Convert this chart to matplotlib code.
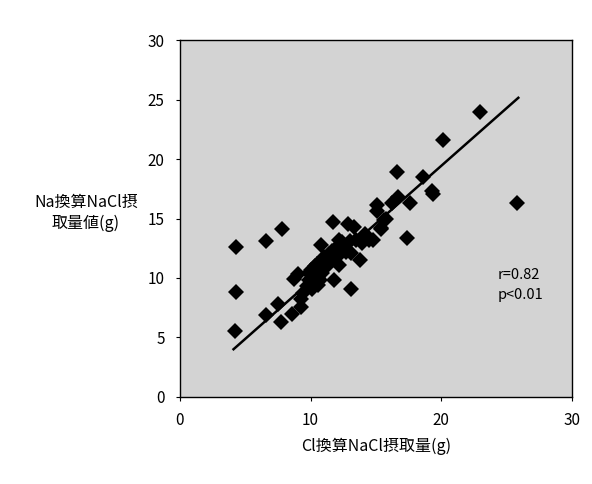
import numpy as np
import matplotlib.pyplot as plt

plt.rcParams['font.family'] = ['Noto Sans CJK JP', 'DejaVu Sans']

# Cl換算 vs Na換算 NaCl摂取量 (g)
cl_nacl = [4.3, 4.3, 4.2, 6.6, 7.8, 6.6, 7.5, 7.7, 8.6, 9.3,
           8.7, 9.0, 9.9, 9.7, 9.4, 9.3, 10.2, 10.6, 10.7, 10.0,
           10.2, 10.5, 11.0, 11.2, 11.5, 11.8, 11.9, 12.2, 11.7, 12.9,
           10.8, 12.2, 13.0, 13.1, 13.8, 13.9, 13.1, 14.8, 14.5, 14.2,
           13.3, 15.4, 15.6, 15.8, 15.1, 15.1, 15.4, 16.2, 16.7, 17.6,
           16.6, 18.6, 19.3, 19.4, 17.4, 20.1, 23.0, 25.8, 10.4, 10.9,
           11.3, 11.6, 12.0, 12.5, 10.1, 10.6, 11.0, 11.4, 12.4, 12.7,
           9.9, 10.3, 12.0, 13.5]
na_nacl = [12.6, 8.8, 5.5, 13.1, 14.1, 6.9, 7.8, 6.3, 7.0, 8.2,
           9.9, 10.3, 9.8, 9.3, 8.7, 7.6, 9.6, 9.4, 9.8, 10.7,
           10.4, 11.2, 11.8, 10.9, 11.5, 9.8, 12.1, 11.1, 14.7, 14.5,
           12.8, 13.2, 13.1, 12.1, 11.5, 12.9, 9.1, 13.2, 13.2, 13.7,
           14.3, 14.1, 14.9, 15.0, 16.1, 15.6, 14.2, 16.3, 16.8, 16.3,
           18.9, 18.5, 17.3, 17.1, 13.4, 21.6, 24.0, 16.3, 10.1, 10.4,
           11.6, 12.3, 12.6, 12.4, 9.1, 10.0, 11.4, 12.0, 13.0, 12.2,
           10.4, 11.0, 11.8, 13.2]

# regression line as drawn in the figure
fit_slope = 0.97
fit_intercept = 0.03
stats_text = 'r=0.82\np<0.01'

fig = plt.figure(figsize=(5.92, 4.84), dpi=100)
ax = fig.add_axes([0.304, 0.18, 0.662, 0.737])
ax.set_facecolor('#d3d3d3')

x = np.array(cl_nacl)
y = np.array(na_nacl)
ax.plot(x, y, 'D', color='black', ms=7.8, mew=0)

xl = np.array([x.min() - 0.1, x.max() + 0.1])
ax.plot(xl, fit_slope * xl + fit_intercept, color='black', lw=1.8)

ax.text(24.3, 9.4, stats_text, fontsize=10.5, va='center', ha='left',
        linespacing=1.5)

ax.set_xlim(0, 30)
ax.set_ylim(0, 30)
ax.set_xticks([0, 10, 20, 30])
ax.set_yticks([0, 5, 10, 15, 20, 25, 30])
ax.tick_params(labelsize=11, length=3, width=0.8, direction='out', pad=8)
for s in ax.spines.values():
    s.set_linewidth(1.0)

ax.set_xlabel('Cl換算NaCl摂取量(g)', fontsize=11.5, labelpad=6)
fig.text(0.145, 0.56, 'Na換算NaCl摂\n取量値(g)', fontsize=11.5,
         ha='center', va='center', linespacing=1.3)

fig.savefig('out.png', dpi=100)
